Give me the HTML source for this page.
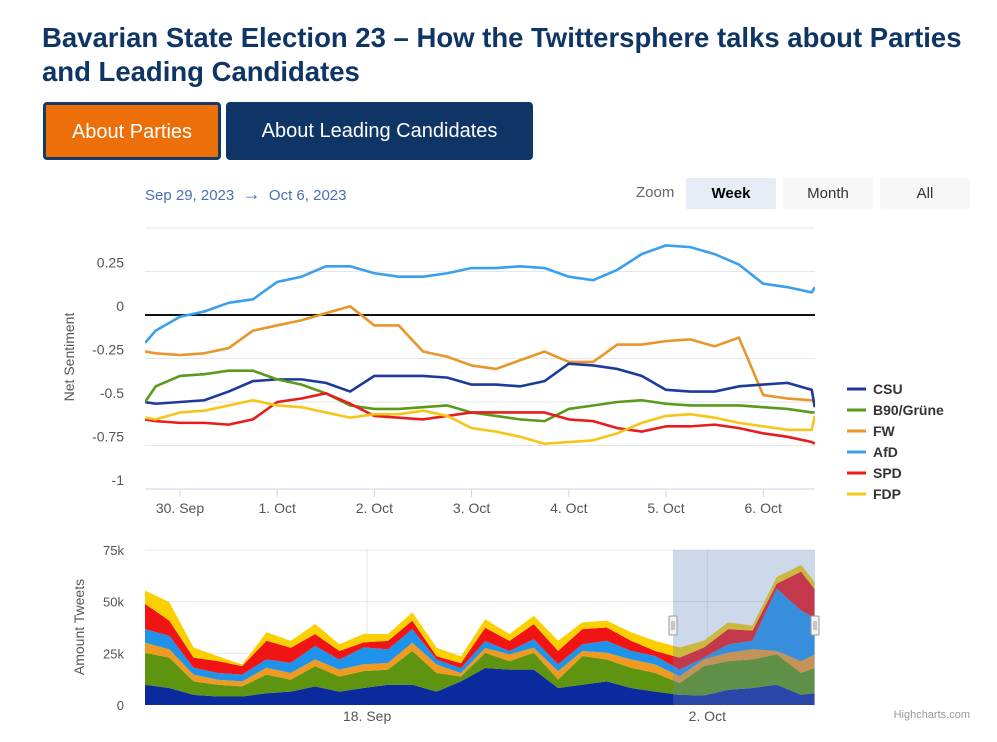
<!DOCTYPE html>
<html><head><meta charset="utf-8">
<style>
body{margin:0;background:#fff;font-family:"Liberation Sans",Arial,sans-serif;width:997px;height:742px;overflow:hidden;position:relative}
h1{position:absolute;left:42px;top:21px;margin:0;font-size:27.5px;line-height:34px;color:#0f3566;font-weight:bold;width:940px}
.btn{position:absolute;top:102px;height:58px;box-sizing:border-box;color:#fff;font-size:20px;line-height:54px;text-align:center;border-radius:4px}
.rs{position:absolute;top:178px;height:31px;line-height:31px;font-size:15px;text-align:center;border-radius:2px}
</style></head><body>
<h1>Bavarian State Election 23 – How the Twittersphere talks about Parties and Leading Candidates</h1>
<div class="btn" style="left:43px;width:178px;background:#ec6f0a;border:3px solid #163a66">About Parties</div>
<div class="btn" style="left:226px;width:307px;background:#0f3566;border:2px solid #0f3566">About Leading Candidates</div>
<div style="position:absolute;left:145px;top:184px;font-size:15px;color:#4a6fb5">Sep 29, 2023 &nbsp;<span style="font-size:18px">→</span>&nbsp; Oct 6, 2023</div>
<div style="position:absolute;left:636px;top:184px;font-size:15px;color:#666">Zoom</div>
<div class="rs" style="left:686px;width:90px;background:#e6ebf5;font-weight:bold;color:#000">Week</div>
<div class="rs" style="left:783px;width:90px;background:#f7f7f7;color:#333">Month</div>
<div class="rs" style="left:880px;width:90px;background:#f7f7f7;color:#333">All</div>
<svg id="c" width="997" height="742" style="position:absolute;left:0;top:0"></svg>
<script>
// main chart data (days relative to 30 Sep 00:00)
const days=[-0.36,-0.25,0,0.25,0.5,0.75,1,1.25,1.5,1.75,2,2.25,2.5,2.75,3,3.25,3.5,3.75,4,4.25,4.5,4.75,5,5.25,5.5,5.75,6,6.25,6.5,6.53];
const csu=[-0.5,-0.51,-0.5,-0.49,-0.44,-0.38,-0.37,-0.37,-0.39,-0.44,-0.35,-0.35,-0.35,-0.36,-0.4,-0.4,-0.41,-0.38,-0.28,-0.29,-0.31,-0.35,-0.43,-0.44,-0.44,-0.41,-0.4,-0.39,-0.43,-0.53];
const b90=[-0.5,-0.41,-0.35,-0.34,-0.32,-0.32,-0.37,-0.4,-0.45,-0.52,-0.54,-0.54,-0.53,-0.52,-0.56,-0.58,-0.6,-0.61,-0.54,-0.52,-0.5,-0.49,-0.51,-0.52,-0.52,-0.52,-0.53,-0.54,-0.56,-0.56];
const fw=[-0.21,-0.22,-0.23,-0.22,-0.19,-0.09,-0.06,-0.03,0.01,0.05,-0.06,-0.06,-0.21,-0.24,-0.29,-0.31,-0.26,-0.21,-0.27,-0.27,-0.17,-0.17,-0.15,-0.14,-0.18,-0.13,-0.46,-0.48,-0.49,-0.49];
const afd=[-0.16,-0.09,-0.01,0.02,0.07,0.09,0.19,0.22,0.28,0.28,0.24,0.22,0.22,0.24,0.27,0.27,0.28,0.27,0.22,0.2,0.26,0.35,0.4,0.39,0.35,0.29,0.18,0.16,0.13,0.16];
const spd=[-0.6,-0.61,-0.62,-0.62,-0.63,-0.6,-0.5,-0.48,-0.45,-0.51,-0.58,-0.59,-0.6,-0.58,-0.56,-0.56,-0.56,-0.56,-0.6,-0.61,-0.65,-0.67,-0.64,-0.64,-0.63,-0.65,-0.68,-0.7,-0.73,-0.74];
const fdp=[-0.59,-0.6,-0.56,-0.55,-0.52,-0.49,-0.52,-0.53,-0.56,-0.59,-0.57,-0.57,-0.55,-0.58,-0.65,-0.67,-0.7,-0.74,-0.73,-0.72,-0.68,-0.62,-0.58,-0.57,-0.59,-0.62,-0.64,-0.66,-0.66,-0.58];
const yTicks=[0.25,0,-0.25,-0.5,-0.75,-1];
const yTickLabels=["0.25","0","-0.25","-0.5","-0.75","-1"];
const xTicks=[0,1,2,3,4,5,6];
const xTickLabels=["30. Sep","1. Oct","2. Oct","3. Oct","4. Oct","5. Oct","6. Oct"];
const seriesNames=["CSU","B90/Grüne","FW","AfD","SPD","FDP"];
// navigator data (days from start, amounts in thousands)
const navDays=[0,1,2,3,4,5,6,7,8,9,10,11,12,13,14,15,16,17,18,19,20,21,22,23,24,25,26,27,27.55];
const navCsu=[9.8,8.2,4.9,4.1,4.1,5.7,6.5,9,6.5,8.2,9.8,9.8,6.5,11.4,17.9,17.1,17.1,8.2,9.8,11.4,8.2,6.5,4.9,4.6,7.3,8.2,9.8,4.9,5.7];
const navGreen=[15.5,14.7,6.5,5.7,4.9,9,5.7,9.8,7.3,8.2,7.3,16.3,9,2.4,7.3,4.1,8.2,4.1,13.9,10.6,9.8,9,5.7,14.2,13.9,13.9,14.7,10.6,12.2];
const navFw=[4.9,4.1,3.3,2.4,2.4,3.3,3.3,3.3,3.3,3.3,3.3,4.1,4.1,1.6,2.4,3.3,2.4,4.1,2.4,3.3,4.1,4.1,3.3,3.3,4.1,4.9,1.6,5.7,6.5];
const navAfd=[6.5,6.5,3.3,3.3,3.3,4.1,4.9,6.5,4.9,8.2,6.5,6.5,2.4,2.4,3.3,1.6,4.1,3.3,3.3,5.7,4.1,4.1,3.3,0.8,4.1,4.1,30.2,24.5,17.9];
const navSpd=[12.2,7.3,4.9,5.7,4.1,9,7.3,5.7,4.1,2.4,4.1,4.1,1.6,2.4,6.5,4.9,7.3,6.5,7.3,6.5,4.9,2.4,5.7,4.9,7.3,4.9,2.4,18.8,13.9];
const navFdp=[6.5,9,4.9,2.4,0.8,4.1,3.3,4.9,3.3,4.1,3.3,4.1,4.1,3.3,4.1,3.3,4.1,4.9,3.3,3.3,4.1,4.9,4.9,3.3,3.3,2.4,3.3,3.3,3.3];
const navTicks=[0,25,50,75];
const navTickLabels=["0","25k","50k","75k"];
const navXTicks=[9.14,23.14];
const navXTickLabels=["18. Sep","2. Oct"];

const NS="http://www.w3.org/2000/svg";
const svg=document.getElementById('c');
function mk(tag,attrs,parent){const e=document.createElementNS(NS,tag);for(const k in attrs)e.setAttribute(k,attrs[k]);(parent||svg).appendChild(e);return e;}
const X=t=>180+97.2*t, Y=v=>315-v*174;
const clipEl=mk('clipPath',{id:'pc'});mk('rect',{x:145,y:220,width:670,height:270},clipEl);
for(let i=0;i<yTicks.length;i++){
 const v=yTicks[i];
 const g=mk('line',{x1:145,x2:815,y1:Y(v),y2:Y(v),stroke:v===0?'#111':'#e6e6e6','stroke-width':v===0?2:1});
 
 
 const t=mk('text',{x:124,y:Y(v)-4,'text-anchor':'end','font-size':14,fill:'#555'});t.textContent=yTickLabels[i];
 
 
}
const topGrid=mk('line',{x1:145,x2:815,y1:Y(0.5),y2:Y(0.5),stroke:'#e6e6e6'});


const ax=mk('line',{x1:145,x2:815,y1:489,y2:489,stroke:'#ccd6eb'});


for(let i=0;i<xTicks.length;i++){
 const x=X(xTicks[i]);
 const tk=mk('line',{x1:x,x2:x,y1:489,y2:497,stroke:'#ccd6eb'});
 
 
 const t=mk('text',{x:x,y:513,'text-anchor':'middle','font-size':14,fill:'#555'});t.textContent=xTickLabels[i];
 
 
}
const yt=mk('text',{x:0,y:0,transform:'translate(74,357) rotate(-90)','text-anchor':'middle','font-size':14,fill:'#555'});yt.textContent='Net Sentiment';


const series=[csu,b90,fw,afd,spd,fdp];
const colors=['#1b3a9c','#5a9a1a','#e8952a','#3aa0ee','#e81c1c','#f5c518'];
const drawOrder=[3,2,0,1,4,5];
for(const i of drawOrder){
 const p=mk('polyline',{points:days.map((d,j)=>X(d)+','+Y(series[i][j])).join(' '),fill:'none',stroke:colors[i],'stroke-width':2.6,'stroke-linejoin':'round','clip-path':'url(#pc)'});
 
 
}
for(let i=0;i<seriesNames.length;i++){
 const y=389+21*i;
 const g=mk('g',{});
 
 
 mk('line',{x1:847,x2:866,y1:y,y2:y,stroke:colors[i],'stroke-width':3},g);
 const t=mk('text',{x:873,y:y+5,'font-size':14,'font-weight':'bold',fill:'#333'},g);t.textContent=seriesNames[i];
}
const NX=d=>145+24.3*d, NY=v=>705-v*2.067;
for(let i=0;i<navTicks.length;i++){
 const v=navTicks[i];
 if(v>0){const gl=mk('line',{x1:145,x2:815,y1:NY(v),y2:NY(v),stroke:'#e6e6e6'});
 
 }
 const t=mk('text',{x:124,y:NY(v)+5,'text-anchor':'end','font-size':13,fill:'#555'});t.textContent=navTickLabels[i];
 
 
}
for(let i=0;i<navXTicks.length;i++){
 const x=NX(navXTicks[i]);
 const gl=mk('line',{x1:x,x2:x,y1:550,y2:705,stroke:'#e6e6e6'});
 
 
 const t=mk('text',{x:x,y:721,'text-anchor':'middle','font-size':14,fill:'#555'});t.textContent=navXTickLabels[i];
 
 
}
const nt=mk('text',{x:0,y:0,transform:'translate(84,627) rotate(-90)','text-anchor':'middle','font-size':14,fill:'#555'});nt.textContent='Amount Tweets';


const navSeries=[navCsu,navGreen,navFw,navAfd,navSpd,navFdp];
const navColors=['#0b2a9e','#5e9410','#f09a22','#1f93ea','#f01414','#fbd000'];
let base=navDays.map(()=>0);
for(let s=0;s<navSeries.length;s++){
 const topv=base.map((b,j)=>b+navSeries[s][j]);
 const pts=navDays.map((d,j)=>NX(d)+','+NY(topv[j])).concat(navDays.map((d,j)=>NX(d)+','+NY(base[j])).reverse());
 const a=mk('polygon',{points:pts.join(' '),fill:navColors[s]});
 
 
 base=topv;
}
const sel=mk('rect',{x:673,y:550,width:142,height:155,fill:'rgba(102,133,194,0.32)'});


for(const hx of [673,815]){
 const h=mk('rect',{x:hx-4,y:616,width:8,height:19,fill:'#f2f2f2',stroke:'#999',rx:1});
 
 
 mk('line',{x1:hx-1,x2:hx-1,y1:621,y2:630,stroke:'#999'});
 mk('line',{x1:hx+1,x2:hx+1,y1:621,y2:630,stroke:'#999'});
}
const cr=mk('text',{x:970,y:718,'text-anchor':'end','font-size':11,fill:'#999'});cr.textContent='Highcharts.com';


</script>
</body></html>
